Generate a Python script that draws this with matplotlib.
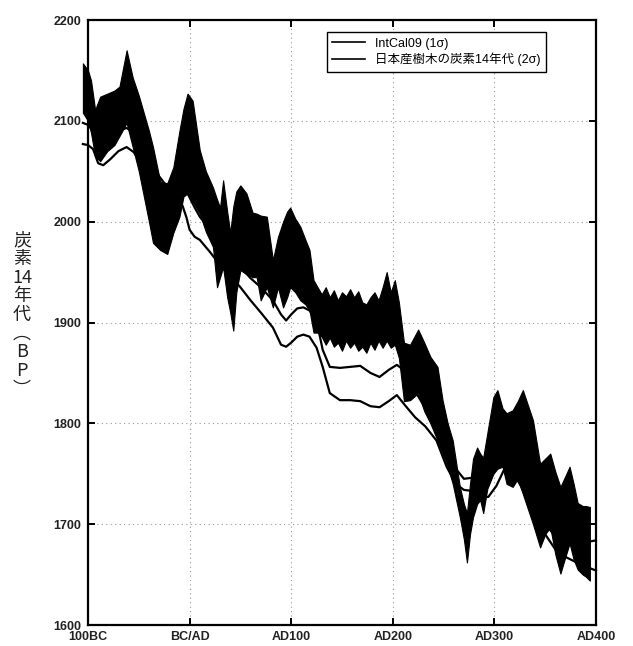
import matplotlib
matplotlib.use('Agg')
import matplotlib.pyplot as plt
from matplotlib.lines import Line2D

plt.rcParams['font.family'] = ['Liberation Sans', 'Noto Sans CJK JP', 'DejaVu Sans']

# x axis ticks (years, negative = BC)
tick_years = [-100, 0, 100, 200, 300, 400]
tick_labels = ['100BC', 'BC/AD', 'AD100', 'AD200', 'AD300', 'AD400']
y_ticks = [1600, 1700, 1800, 1900, 2000, 2100, 2200]

# IntCal09 1 sigma range (upper / lower curves)
ic_years = [-105, -100, -95, -90, -85, -78, -70, -62, -55, -48, -40, -30, -20, -12,
            -7, -3, 0, 5, 10, 20, 30, 40, 50, 60, 70, 82, 90, 95, 100, 106, 112,
            118, 125, 131, 138, 148, 158, 168, 178, 187, 196, 204, 212, 222, 232,
            243, 253, 262, 270, 278, 286, 294, 302, 310, 318, 326, 338, 350, 360,
            371, 385, 400]
ic_upper = [2098, 2096, 2090, 2080, 2078, 2083, 2090, 2093, 2088, 2078, 2062, 2045,
            2032, 2034, 2038, 2030, 2024, 2014, 2005, 1992, 1978, 1966, 1955, 1944,
            1935, 1922, 1908, 1902, 1908, 1914, 1915, 1912, 1902, 1873, 1856, 1855,
            1856, 1857, 1850, 1846, 1853, 1858, 1852, 1832, 1815, 1795, 1772, 1755,
            1745, 1746, 1750, 1758, 1770, 1776, 1768, 1748, 1722, 1700, 1688, 1680,
            1681, 1684]
ic_lower = [2077, 2076, 2072, 2058, 2056, 2062, 2070, 2074, 2069, 2058, 2045, 2030,
            2015, 2014, 2016, 2004, 1992, 1985, 1982, 1970, 1957, 1946, 1935, 1922,
            1910, 1895, 1878, 1876, 1880, 1886, 1888, 1886, 1875, 1856, 1830, 1823,
            1823, 1822, 1817, 1816, 1822, 1828, 1818, 1806, 1797, 1783, 1757, 1740,
            1734, 1733, 1727, 1727, 1738, 1755, 1752, 1738, 1713, 1690, 1675, 1667,
            1660, 1654]

# Japanese tree-ring 14C ages, 2 sigma range
jp_years = [-105, -100, -97, -93, -88, -81, -74, -69, -62, -56, -50, -46, -40, -36,
            -29, -22, -16, -10, -6, -2, 3, 10, 16, 23, 27, 30, 33, 37, 40, 43, 46,
            50, 56, 62, 66, 70, 76, 82, 87, 92, 96, 99, 104, 109, 114, 118, 122,
            126, 130, 134, 138, 142, 146, 150, 154, 158, 162, 166, 170, 174, 178,
            182, 186, 190, 194, 198, 202, 206, 211, 217, 225, 231, 237, 244, 249,
            254, 259, 266, 270, 273, 276, 279, 283, 286, 289, 293, 299, 303, 308,
            312, 318, 323, 328, 333, 338, 345, 350, 355, 360, 365, 370, 374, 378,
            382, 387, 390, 394]
jp_upper = [2157, 2150, 2140, 2111, 2124, 2127, 2130, 2134, 2170, 2143, 2125, 2111,
            2090, 2074, 2040, 2038, 2054, 2090, 2112, 2127, 2120, 2071, 2050, 2034,
            2022, 2014, 2041, 2010, 1989, 2015, 2030, 2036, 2028, 2009, 2008, 2006,
            2005, 1962, 1985, 2000, 2010, 2014, 2003, 1995, 1982, 1972, 1942, 1935,
            1928, 1935, 1925, 1932, 1922, 1930, 1926, 1933, 1925, 1931, 1920, 1918,
            1925, 1930, 1922, 1935, 1950, 1930, 1942, 1920, 1880, 1878, 1893, 1880,
            1866, 1856, 1823, 1800, 1783, 1737, 1720, 1711, 1740, 1765, 1776, 1770,
            1766, 1790, 1826, 1833, 1815, 1810, 1813, 1822, 1833, 1818, 1803, 1760,
            1765, 1770, 1752, 1737, 1748, 1757, 1740, 1721, 1718, 1718, 1717]
jp_lower = [2108, 2100, 2088, 2065, 2060, 2070, 2076, 2085, 2098, 2074, 2050, 2030,
            2000, 1979, 1972, 1968, 1989, 2005, 2025, 2028, 2020, 2008, 1990, 1975,
            1935, 1945, 1955, 1925, 1910, 1892, 1930, 1952, 1948, 1945, 1945, 1922,
            1935, 1915, 1935, 1915, 1925, 1935, 1930, 1922, 1918, 1912, 1890, 1890,
            1886, 1878, 1885, 1876, 1880, 1872, 1882, 1875, 1880, 1872, 1876, 1870,
            1880, 1873, 1882, 1875, 1882, 1875, 1878, 1865, 1822, 1823, 1830, 1812,
            1800, 1783, 1770, 1757, 1740, 1707, 1685, 1662, 1690, 1707, 1720, 1724,
            1711, 1735, 1750, 1755, 1757, 1740, 1737, 1745, 1730, 1715, 1700, 1677,
            1690, 1697, 1670, 1651, 1668, 1681, 1665, 1655, 1650, 1648, 1644]

fig = plt.figure(figsize=(6.33, 6.46), dpi=100)
ax = fig.add_axes([0.139, 0.0325, 0.8025, 0.9365])

ax.fill_between(jp_years, jp_lower, jp_upper, color='black', lw=0.8,
                edgecolor='black', zorder=2, clip_on=False)
ax.plot(ic_years, ic_upper, color='black', lw=1.6, zorder=3, clip_on=False)
ax.plot(ic_years, ic_lower, color='black', lw=1.6, zorder=3, clip_on=False)

ax.set_xlim(-100, 400)
ax.set_ylim(1600, 2200)
ax.set_xticks(tick_years)
ax.set_xticklabels(tick_labels)
ax.set_yticks(y_ticks)
ax.tick_params(direction='in', length=5, width=1.4, top=True, right=True,
               labelsize=9, pad=5)
ax.tick_params(axis='x', pad=4)
for lab in ax.get_xticklabels() + ax.get_yticklabels():
    lab.set_fontweight('bold')
    lab.set_color('#222222')
for s in ax.spines.values():
    s.set_linewidth(1.6)

ax.grid(True, linestyle=(0, (1, 3)), color='#999999', lw=0.8)
ax.set_axisbelow(True)

handles = [Line2D([], [], color='black', lw=1.2),
           Line2D([], [], color='black', lw=1.2)]
leg = ax.legend(handles, ['IntCal09 (1σ)', '日本産樹木の炭素14年代 (2σ)'],
                loc='upper center', bbox_to_anchor=(0.686, 0.98), borderaxespad=0,
                fancybox=False, edgecolor='black', framealpha=1,
                handlelength=2.6, borderpad=0.45, labelspacing=0.25,
                prop={'family': ['Liberation Sans', 'Noto Sans CJK JP'], 'size': 9})
leg.get_frame().set_linewidth(1.0)

fig.text(22 / 633, 1 - 315 / 646, '炭\n素\n14\n年\n代\n︵\nB\nP\n︶',
         ha='center', va='center', multialignment='center', fontsize=13,
         linespacing=1.05, family=['Noto Sans CJK JP', 'DejaVu Sans'],
         color='#222222')

fig.savefig('out.png', dpi=100)
